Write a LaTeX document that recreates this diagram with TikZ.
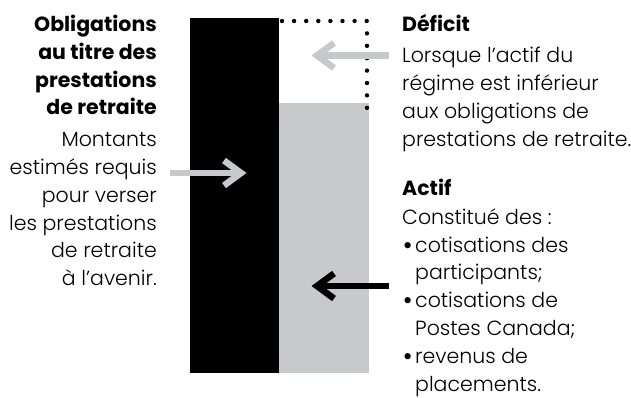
\documentclass[tikz,border=0pt]{standalone}
\usepackage{fontspec}
\setmainfont{Poppins}
\newfontfamily\lightfont{Poppins Light}
\definecolor{lgray}{RGB}{200,201,203}
\begin{document}
\begin{tikzpicture}[x=1pt,y=-1pt,
  lt/.style={font=\lightfont\fontsize{20.5}{20.5}\selectfont, inner sep=0pt},
  bd/.style={font=\bfseries\fontsize{20.5}{20.5}\selectfont, inner sep=0pt},
  shaft/.style={line width=6.5pt, line cap=butt, line join=miter},
]
\useasboundingbox (0,0) rectangle (631,398);
% bars
\fill[black] (190,18) rectangle (279,373);
\fill[lgray] (279,103) rectangle (369,373);
% dotted outline
\foreach \x in {282,294.1,...,368} \fill (\x,21) circle (2.2);
\foreach \y in {33.4,45.8,...,110} \fill (367,\y) circle (2.2);
% left text
\foreach \t/\y [count=\i] in {Obligations/32,au titre des/59.7,prestations/87.3,de retraite/115}
  \node[bd, anchor=base east] (lb\i) at (157,\y) {\t};
\foreach \t/\y [count=\i] in {Montants/147,estimés requis/175,pour verser/202.5,les prestations/230,de retraite/257.5,à l’avenir./285}
  \node[lt, anchor=base east] (ll\i) at (157,\y) {\t};
% right upper text
\node[bd, anchor=base west] (def) at (402,32) {Déficit};
\foreach \t/\y [count=\i] in {Lorsque l’actif du/63,régime est inférieur/91,aux obligations de/119,prestations de retraite./147}
  \node[lt, anchor=base west] (dl\i) at (402,\y) {\t};
% right lower text
\node[bd, anchor=base west] (act) at (402,195) {Actif};
\node[lt, anchor=base west] (al1) at (402,224) {Constitué des :};
\foreach \t/\y [count=\i] in {cotisations des/252,participants;/279.8,cotisations de/307.6,Postes Canada;/335.4,revenus de/363.2,placements./391}
  \node[lt, anchor=base west] (ai\i) at (415,\y) {\t};
\foreach \y [count=\i] in {252,307.6,363.2}
  \node[bd, anchor=base west] (bu\i) at (402.5,\y) {•};
% arrows
\coordinate (la0) at (170,173); \coordinate (la1) at (241,173);
\draw[shaft, lgray] (la0) -- (la1);
\draw[shaft, lgray] (la1) ++(-17,-12.5) -- (la1) -- ++(-17,12.5);
\coordinate (ta0) at (389,55.5); \coordinate (ta1) at (317,55.5);
\draw[shaft, lgray] (ta0) -- (ta1);
\draw[shaft, lgray] (ta1) ++(17,-12.5) -- (ta1) -- ++(17,12.5);
\coordinate (ba0) at (389,286); \coordinate (ba1) at (317,286);
\draw[shaft, black] (ba0) -- (ba1);
\draw[shaft, black] (ba1) ++(17,-12.5) -- (ba1) -- ++(17,12.5);
\end{tikzpicture}
\end{document}
